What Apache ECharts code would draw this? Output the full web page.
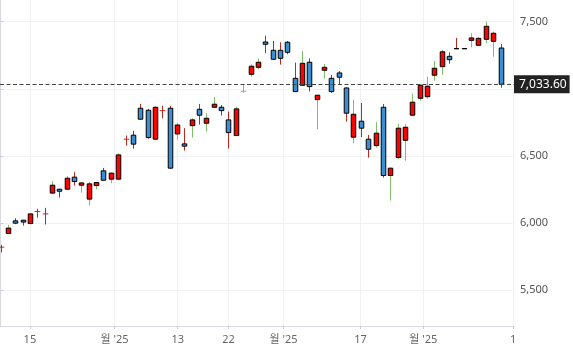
<!DOCTYPE html>
<html>
<head>
<meta charset="utf-8">
<script src="https://cdn.jsdelivr.net/npm/echarts@6/dist/echarts.min.js"></script>
<style>
html,body{margin:0;padding:0;background:#fff;}
#chart{width:573px;height:357px;}
</style>
</head>
<body>
<div id="chart"></div>
<script>
// ---- data ----
const openVals  = [5819,5921,6015,6020,5995,6085,6067,6222,6251,6251,6341,6281,6177,6278,6388,6326,6326,6624,6654,6855,6840,6624,6837,6855,6663,6589,6725,6847,6743,6862,6862,6768,6651,6981,7108,7160,7349,7287,7287,7347,7078,7026,7198,6919,7138,7078,7118,7006,6639,6758,6624,6576,6862,6353,6487,6616,6803,6929,6941,7101,7165,7242,7300,7300,7361,7324,7369,7354,7304];
const closeVals = [5819,5961,5998,6006,6067,6085,6067,6281,6236,6333,6308,6298,6291,6301,6318,6371,6507,6624,6587,6773,6636,6862,6837,6408,6730,6572,6768,6803,6780,6885,6837,6673,6850,6981,7168,7198,7332,7220,7227,7272,6979,7190,7016,6952,7160,6979,7086,6818,6810,6706,6549,6669,6353,6408,6706,6713,6900,7026,7019,7153,7276,7217,7298,7298,7379,7376,7466,7414,7033.6];
const highVals  = [5836,5985,6035,6022,6069,6105,6112,6313,6253,6350,6378,6305,6304,6305,6410,6373,6517,6651,6686,6887,6850,6872,6874,6872,6745,6706,6780,6887,6818,6939,6879,6830,6865,7028,7183,7227,7396,7356,7347,7356,7195,7282,7227,6954,7185,7103,7133,7011,6917,6894,6656,6753,6887,6410,6738,6738,6964,7034,7090,7209,7291,7272,7379,7300,7414,7386,7500,7426,7334];
const lowVals   = [5779,5918,5993,5980,5988,6038,5988,6214,6189,6249,6278,6226,6129,6251,6315,6296,6324,6576,6554,6770,6628,6622,6780,6405,6621,6539,6636,6733,6681,6860,6800,6554,6649,6971,7090,7145,7265,7218,7180,7257,6977,7024,6979,6698,7075,6969,7036,6755,6594,6639,6487,6561,6338,6166,6477,6464,6801,6911,6926,7060,7103,7187,7298,7298,7309,7322,7339,7239,7008];
const wickColors = ['r','g','r','r','g','r','r','g','r','g','r','g','g','g','r','g','g','r','r','r','r','g','r','r','g','r','g','r','g','g','r','r','g','g','g','g','r','r','r','r','r','g','r','g','g','r','r','r','g','r','r','g','r','g','g','g','g','g','g','g','g','r','r','r','g','g','g','g','r'];
const xTickPositions = [4, 15.5, 24.1, 31, 38.5, 48.95, 57.5, 69.7];
const xTickLabels = ['15', "월 '25", '13', '22', "월 '25", '17', "월 '25", '1'];
const yTickValues = [5500, 6000, 6500, 7000, 7500];
const yLabelValues = [5500, 6000, 6500, 7500];
const lastPrice = 7033.60;

// ---- build ----
const data = openVals.map((o, i) => [i, o, closeVals[i], lowVals[i], highVals[i], wickColors[i] === 'g' ? 1 : 0]);
const UP = '#ff0000', DOWN = '#3a8ed4', WICK_R = '#c0281c', WICK_G = '#80c06a';
const FONT = "'Noto Sans', 'Noto Sans CJK KR', sans-serif";

function fmtNum(v){ return v.toLocaleString('en-US'); }

const chart = echarts.init(document.getElementById('chart'), null, {renderer:'canvas'});
chart.setOption({
  animation: false,
  backgroundColor: '#ffffff',
  grid: {left: 0, right: 59, top: 0, bottom: 31, containLabel: false},
  xAxis: {
    type: 'value', min: -0.068, max: 69.83,
    axisLine: {show: true, lineStyle: {color: '#d9d9e1', width: 1}},
    axisTick: {show: true, customValues: xTickPositions, length: 3, lineStyle: {color: '#c9c9d2'}},
    axisLabel: {
      customValues: xTickPositions, color: '#666', fontSize: 11, fontFamily: FONT, margin: 8,
      formatter: function (v) {
        for (let k = 0; k < xTickPositions.length; k++) if (Math.abs(xTickPositions[k] - v) < 0.01) return xTickLabels[k];
        return '';
      }
    },
    splitLine: {show: true, lineStyle: {color: '#f1f1f3', width: 1}}
  },
  yAxis: {
    type: 'value', position: 'right', min: 5231, max: 7662,
    axisLine: {show: true, lineStyle: {color: '#d9d9e1', width: 1}},
    axisTick: {show: true, customValues: yTickValues, length: 3, lineStyle: {color: '#c9c9d2'}},
    axisLabel: {
      customValues: yLabelValues, color: '#555', fontSize: 11, fontFamily: FONT, margin: 6,
      formatter: function (v) { return fmtNum(v); }
    },
    splitLine: {show: true, lineStyle: {color: '#f1f1f3', width: 1}}
  },
  series: [{
    type: 'custom',
    clip: true,
    data: data,
    encode: {x: 0, y: [1, 2, 3, 4]},
    renderItem: function (params, api) {
      const x = api.value(0), o = api.value(1), c = api.value(2), l = api.value(3), h = api.value(4);
      const wc = api.value(5) ? WICK_G : WICK_R;
      const pO = api.coord([x, o]), pC = api.coord([x, c]), pL = api.coord([x, l]), pH = api.coord([x, h]);
      const w = api.size([1, 0])[0] * 0.62;
      const cx = Math.round(pO[0]) + 0.5;
      const children = [{
        type: 'line',
        shape: {x1: cx, y1: pH[1], x2: cx, y2: pL[1]},
        style: {stroke: wc, lineWidth: 1}
      }];
      if (o === c) {
        children.push({
          type: 'line',
          shape: {x1: cx - w / 2 - 0.5, y1: pO[1], x2: cx + w / 2 + 0.5, y2: pO[1]},
          style: {stroke: wc, lineWidth: 1}
        });
      } else {
        const top = Math.min(pO[1], pC[1]), bot = Math.max(pO[1], pC[1]);
        children.push({
          type: 'rect',
          shape: {x: cx - w / 2, y: top, width: w, height: bot - top},
          style: {fill: c > o ? UP : DOWN, stroke: '#000', lineWidth: 1}
        });
      }
      return {type: 'group', children: children};
    },
    markLine: {
      silent: true, symbol: 'none', animation: false,
      lineStyle: {color: '#444', type: [4, 2.5], width: 1},
      label: {
        show: true, position: 'end', distance: 0,
        formatter: lastPrice.toLocaleString('en-US', {minimumFractionDigits: 2, maximumFractionDigits: 2}),
        color: '#fff', backgroundColor: '#222', fontSize: 12, fontFamily: FONT,
        padding: [3, 3, 3, 5]
      },
      data: [{yAxis: lastPrice}]
    }
  }]
});
</script>
</body>
</html>
